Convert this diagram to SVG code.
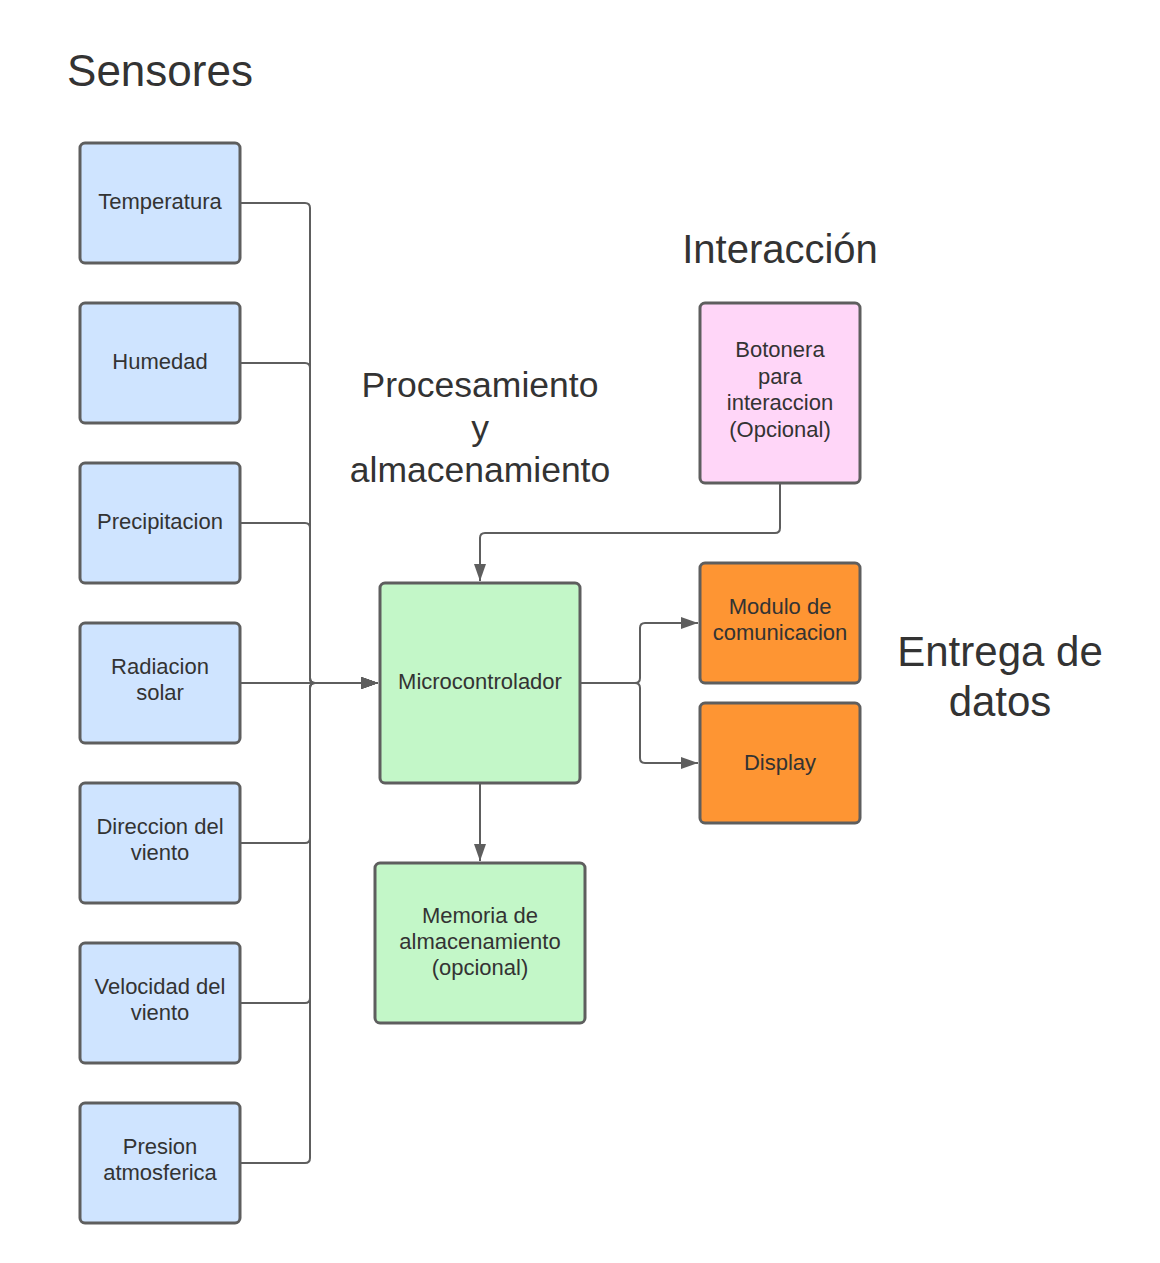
<svg xmlns="http://www.w3.org/2000/svg" width="1160" height="1263" viewBox="0 0 1160 1263">
<style>
.b{stroke:#5e5e5e;stroke-width:3}
.s{fill:#cfe4ff}.g{fill:#c3f7c8}.p{fill:#ffd6f8}.o{fill:#fe9533}
.t{font-family:"Liberation Sans",Arial,sans-serif;font-size:22px;fill:#333;text-anchor:middle}
.h{font-family:"Liberation Sans",Arial,sans-serif;fill:#333;text-anchor:middle}
.c{fill:none;stroke:#5e5e5e;stroke-width:2}
</style>
<defs>
<marker id="a" markerWidth="18" markerHeight="13" refX="17" refY="6.5" orient="auto" markerUnits="userSpaceOnUse">
<path d="M0,0.5 L17,6.5 L0,12.5 Z" fill="#5e5e5e"/>
</marker>
</defs>
<rect width="1160" height="1263" fill="#fff"/>
<text class="h" x="160" y="86" font-size="44">Sensores</text>
<text class="h" x="780" y="263" font-size="40">Interacción</text>
<text class="h" x="480" y="397" font-size="35.5">Procesamiento</text>
<text class="h" x="480" y="440" font-size="35.5">y</text>
<text class="h" x="480" y="482" font-size="35.5">almacenamiento</text>
<text class="h" x="1000" y="666" font-size="42">Entrega de</text>
<text class="h" x="1000" y="716" font-size="42">datos</text>
<g id="connectors">
<path class="c" d="M241,203 H305 Q310,203 310,208 V678 Q310,683 315,683 H378" marker-end="url(#a)"/>
<path class="c" d="M241,363 H305 Q310,363 310,368 V678 Q310,683 315,683 H378" marker-end="url(#a)"/>
<path class="c" d="M241,523 H305 Q310,523 310,528 V678 Q310,683 315,683 H378" marker-end="url(#a)"/>
<path class="c" d="M241,683 H378" marker-end="url(#a)"/>
<path class="c" d="M241,843 H305 Q310,843 310,838 V688 Q310,683 315,683 H378" marker-end="url(#a)"/>
<path class="c" d="M241,1003 H305 Q310,1003 310,998 V688 Q310,683 315,683 H378" marker-end="url(#a)"/>
<path class="c" d="M241,1163 H305 Q310,1163 310,1158 V688 Q310,683 315,683 H378" marker-end="url(#a)"/>
<path class="c" d="M581,683 H635 Q640,683 640,678 V628 Q640,623 645,623 H698" marker-end="url(#a)"/>
<path class="c" d="M581,683 H635 Q640,683 640,688 V758 Q640,763 645,763 H698" marker-end="url(#a)"/>
<path class="c" d="M780,484 V528 Q780,533 775,533 H485 Q480,533 480,538 V581" marker-end="url(#a)"/>
<path class="c" d="M480,784 V861" marker-end="url(#a)"/>
</g>
<g id="temperatura"><rect class="b s" x="80" y="143" width="160" height="120" rx="5"/><text class="t" x="160" y="209">Temperatura</text></g>
<g id="humedad"><rect class="b s" x="80" y="303" width="160" height="120" rx="5"/><text class="t" x="160" y="369">Humedad</text></g>
<g id="precipitacion"><rect class="b s" x="80" y="463" width="160" height="120" rx="5"/><text class="t" x="160" y="529">Precipitacion</text></g>
<g id="radiacion"><rect class="b s" x="80" y="623" width="160" height="120" rx="5"/><text class="t" x="160" y="674">Radiacion</text><text class="t" x="160" y="700">solar</text></g>
<g id="direccion"><rect class="b s" x="80" y="783" width="160" height="120" rx="5"/><text class="t" x="160" y="834">Direccion del</text><text class="t" x="160" y="860">viento</text></g>
<g id="velocidad"><rect class="b s" x="80" y="943" width="160" height="120" rx="5"/><text class="t" x="160" y="994">Velocidad del</text><text class="t" x="160" y="1020">viento</text></g>
<g id="presion"><rect class="b s" x="80" y="1103" width="160" height="120" rx="5"/><text class="t" x="160" y="1154">Presion</text><text class="t" x="160" y="1180">atmosferica</text></g>
<g id="microcontrolador"><rect class="b g" x="380" y="583" width="200" height="200" rx="5"/><text class="t" x="480" y="689">Microcontrolador</text></g>
<g id="memoria"><rect class="b g" x="375" y="863" width="210" height="160" rx="5"/><text class="t" x="480" y="923">Memoria de</text><text class="t" x="480" y="949">almacenamiento</text><text class="t" x="480" y="975">(opcional)</text></g>
<g id="botonera"><rect class="b p" x="700" y="303" width="160" height="180" rx="5"/><text class="t" x="780" y="357">Botonera</text><text class="t" x="780" y="384">para</text><text class="t" x="780" y="410">interaccion</text><text class="t" x="780" y="437">(Opcional)</text></g>
<g id="modulo"><rect class="b o" x="700" y="563" width="160" height="120" rx="5"/><text class="t" x="780" y="614">Modulo de</text><text class="t" x="780" y="640">comunicacion</text></g>
<g id="display"><rect class="b o" x="700" y="703" width="160" height="120" rx="5"/><text class="t" x="780" y="770">Display</text></g>
</svg>
